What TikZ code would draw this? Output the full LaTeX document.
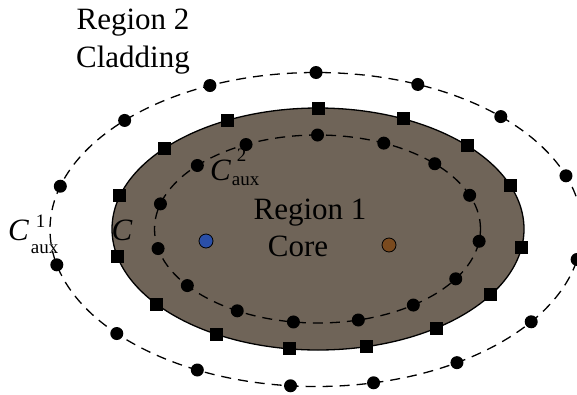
\documentclass[tikz,border=0pt]{standalone}
\usepackage{fontspec}
\setmainfont{Liberation Serif}
\usepackage{tikz}
\definecolor{corebrown}{RGB}{111,100,88}
\definecolor{srcblue}{RGB}{42,79,168}
\definecolor{srcbrown}{RGB}{122,74,30}
\newcommand{\scr}[1]{{\fontsize{19}{19}\selectfont #1}}

\begin{document}
\begin{tikzpicture}[x=1pt,y=-1pt,
  auxcurve/.style={dash pattern=on 10pt off 7pt, line width=1.3pt},
  ptdot/.style={circle, fill=black, inner sep=0pt, minimum size=13pt},
  ptsq/.style={rectangle, fill=black, inner sep=0pt, minimum size=13pt},
  srcdot/.style={circle, draw=black, line width=0.8pt, inner sep=0pt, minimum size=14pt},
  lbl/.style={font=\fontsize{31}{37}\selectfont, inner sep=0pt}]

\useasboundingbox (0,0) rectangle (577,394);
\clip (0,0) rectangle (577,394);

\filldraw[fill=corebrown, draw=black, line width=1.3pt] (318,229) ellipse [x radius=206pt, y radius=121pt];
\draw[auxcurve] (317.5,229) ellipse [x radius=163pt, y radius=94pt];
\draw[auxcurve] (316,229.5) ellipse [x radius=266pt, y radius=157pt];

\foreach \t [count=\i] in {90,65.5,43.5,21,-9,-33,-55,-76.5,-98,-119.5,-141.5,-167,164,138,116}
  \node[ptsq] (sq\i) at ({318+206*cos(\t)},{229-121*sin(\t)}) {};
\foreach \t [count=\i] in {90,66,44,21,-7.5,-32,-54,-75.5,-98.5,-119.5,-143,-168,164.5,137.5,116}
  \node[ptdot] (in\i) at ({317.5+163*cos(\t)},{229-94*sin(\t)}) {};
\foreach \t [count=\i] in {90,67.5,46,20,-11,-36,-58,-77.5,-95.5,-116.5,-138.5,-167,164,136,113.5}
  \node[ptdot] (out\i) at ({316+266*cos(\t)},{229.5-157*sin(\t)}) {};

\node[srcdot, fill=srcblue] (src1) at (206,241) {};
\node[srcdot, fill=srcbrown] (src2) at (389,245) {};

\node[lbl, anchor=base] (reg2) at (133,29) {Region 2};
\node[lbl, anchor=base] (clad) at (133,67) {Cladding};
\node[lbl, anchor=base] (reg1) at (310,219) {Region 1};
\node[lbl, anchor=base] (core) at (298,256) {Core};
\node[lbl, anchor=base] (cbnd) at (122,240) {\itshape C};
\node[lbl, anchor=base west] (caux1) at (8,240)
  {{\itshape C}\hspace{2pt}\makebox[0pt][l]{\hspace{5pt}\raisebox{13pt}{\scr{1}}}\raisebox{-13pt}{\scr{aux}}};
\node[lbl, anchor=base west] (caux2) at (210,180)
  {{\itshape C}\hspace{1pt}\makebox[0pt][l]{\hspace{5pt}\raisebox{19pt}{\scr{2}}}\raisebox{-5pt}{\scr{aux}}};

\end{tikzpicture}
\end{document}
